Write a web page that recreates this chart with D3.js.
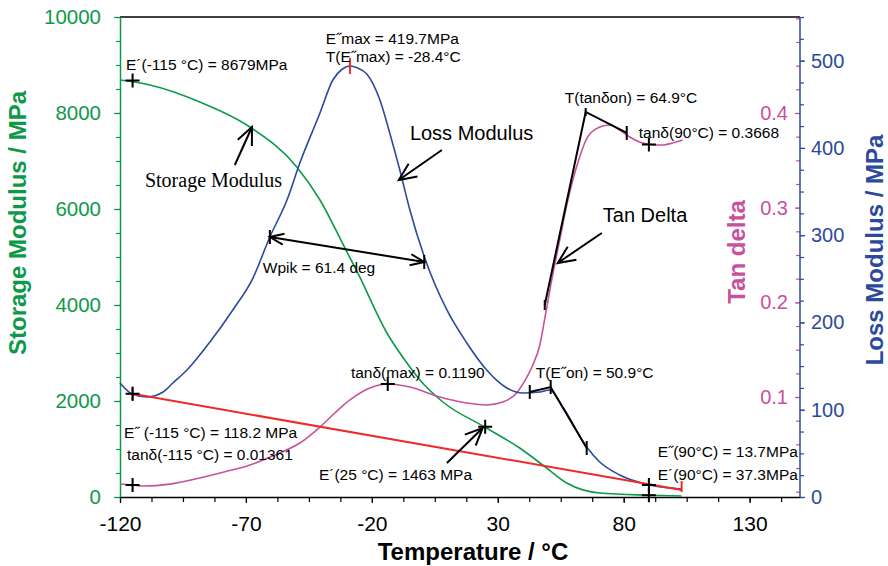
<!DOCTYPE html>
<html>
<head>
<meta charset="utf-8">
<script src="https://cdn.jsdelivr.net/npm/d3@7"></script>
<style>
  body { margin: 0; background: #fff; }
  text { font-family: "Liberation Sans", Arial, sans-serif; }
</style>
</head>
<body>
<svg id="chart" width="888" height="566"></svg>
<script>
// ---- data ----
const xTicks = [-120, -70, -20, 30, 80, 130];
const storageTicks = [0, 2000, 4000, 6000, 8000, 10000];
const lossTicks = [0, 100, 200, 300, 400, 500];
const tanTicks = [0.1, 0.2, 0.3, 0.4];

// storage modulus E' (MPa)
const storageT = [-120, -108.1, -88.3, -68.4, -49.8, -40.6, -30.7, -25.6, -14.0, -4.9, -0.9, 8.2, 24.8, 38.7, 49.4, 57.4, 70.5, 90.3, 103];
const storageE = [8688, 8583, 8229, 7708, 6875, 6188, 5188, 4667, 3417, 2708, 2438, 1979, 1458, 1021, 604, 292, 83, 37, 20];

// loss modulus E'' (MPa)
const lossT = [-120, -115.2, -109.3, -102.9, -99.0, -93.4, -84.3, -75.2, -67.2, -60.5, -53.7, -48.6, -40.6, -35.5, -31.7, -28.7, -25.6, -22.0, -16.8, -12.9, -8.9, -4.9, 1.0, 9.8, 17.7, 25.6, 33.6, 39.9, 46.7, 50.6, 55.8, 65.3, 70.5, 78.4, 90.3, 103];
const lossE = [130.6, 118, 114.6, 120.3, 130.6, 145.5, 177.6, 214.3, 250.9, 297.9, 340.3, 382.7, 440, 477.8, 490.4, 493.9, 491.6, 484.7, 454.9, 417.1, 374.7, 328.9, 273.9, 214.3, 176.5, 145.5, 124.9, 119.2, 120.3, 122.6, 103.1, 57.3, 40.1, 25.2, 13.7, 9.2];

// tan delta
const tanT = [-120, -115, -110.9, -100.2, -88.3, -78.3, -68.4, -58.5, -48.6, -40.6, -34.7, -28.7, -20.8, -13.7, -4.9, 7.0, 17.7, 25.6, 32.0, 37.5, 40.7, 43.9, 46.7, 48.7, 51.8, 54.6, 57.4, 59.8, 62.5, 65.7, 70.5, 74.4, 78.4, 82.4, 86.3, 90.3, 95.5, 99.4, 103.4];
const tanD = [0.0081, 0.0071, 0.006, 0.008, 0.0145, 0.021, 0.0282, 0.0388, 0.0514, 0.0683, 0.0831, 0.0969, 0.1095, 0.1138, 0.1106, 0.1, 0.0937, 0.0916, 0.0947, 0.1043, 0.117, 0.1338, 0.155, 0.1835, 0.229, 0.2659, 0.3028, 0.3292, 0.3535, 0.3747, 0.3852, 0.3873, 0.382, 0.3747, 0.3694, 0.3668, 0.3662, 0.3683, 0.3715];

// baseline of the loss modulus peak (red)
const baselineT = [-115, 103];
const baselineE = [118.2, 8];

// "+" markers: temperature, value, which axis
const markT = [-115, -115, -115, -13.7, 25, 90, 90, 90];
const markV = [8679, 118.2, 0.0071, 0.1138, 1463, 13.7, 37.3, 0.3668];
const markAxis = ["E1", "E2", "tan", "tan", "E1", "E2", "E1", "tan"];

// onset tangents
const eOnT = [42.7, 51.0, 65.3];
const eOnV = [120.3, 126, 56.1];
const tanOnT = [48.65, 64.9, 81.2];
const tanOnV = [0.1972, 0.4011, 0.3789];

// peak width arrow on loss modulus
const wpikT = [-60.5, 0.8];
const wpikV = [297.9, 269.3];

// label arrows (tail -> tip), given in temperature / storage-axis units
const arrowTail = [[-74.4, 6917], [7.8, 7229], [71.3, 5500], [9.8, 708]];
const arrowTip = [[-67.6, 7708], [-9.3, 6604], [53.8, 4875], [24.0, 1438]];

// annotation texts, anchored in temperature / storage-axis units
const labels = [
  { t: -117.6, v: 8896, text: "E´(-115 °C) = 8679MPa" },
  { t: -38.3, v: 9438, text: "E˝max = 419.7MPa" },
  { t: -38.3, v: 9063, text: "T(E˝max) = -28.4°C" },
  { t: 56.6, v: 8208, text: "T(tanδon) = 64.9°C" },
  { t: 86.0, v: 7479, text: "tanδ(90°C) = 0.3668" },
  { t: -63.3, v: 4667, text: "Wpik = 61.4 deg" },
  { t: -28.3, v: 2479, text: "tanδ(max) = 0.1190" },
  { t: 45.1, v: 2479, text: "T(E˝on) = 50.9°C" },
  { t: -118.4, v: 1229, text: "E˝ (-115 °C) = 118.2 MPa" },
  { t: -117.2, v: 771, text: "tanδ(-115 °C) = 0.01361" },
  { t: -41.0, v: 354, text: "E´(25 °C) = 1463 MPa" },
  { t: 93.5, v: 833, text: "E˝(90°C) = 13.7MPa" },
  { t: 93.5, v: 354, text: "E´(90°C) = 37.3MPa" }
];
const bigLabels = [
  { t: -4.9, v: 7438, text: "Loss Modulus", serif: false },
  { t: -110.1, v: 6458, text: "Storage Modulus", serif: true },
  { t: 71.7, v: 5729, text: "Tan Delta", serif: false }
];

// ---- colours ----
const GREEN = "#0d9a48";
const BLUE = "#2b4a9c";
const PINK = "#c8519c";
const RED = "#ee2a2a";
const FONT = "'Liberation Sans', Arial, sans-serif";

const svg = d3.select("#chart");

const x = d3.scaleLinear().domain([-120, 150]).range([120, 800]);
const yS = d3.scaleLinear().domain([0, 10000]).range([497, 17]);
const yL = d3.scaleLinear().domain([0, 550]).range([497, 17]);
const yT = d3.scaleLinear().domain([-0.0056, 0.5014]).range([497, 17]);
const scaleFor = { E1: yS, E2: yL, tan: yT };
const plain = (d) => String(d);

// ---- axes ----
// top frame line
svg.append("line")
  .attr("x1", 120).attr("x2", 800)
  .attr("y1", yS(10000)).attr("y2", yS(10000))
  .attr("stroke", "#000").attr("stroke-width", 1.5);

// bottom axis
const xMinor = svg.append("g").attr("transform", `translate(0,${yS(0)})`)
  .call(d3.axisBottom(x).tickValues(d3.range(-120, 151, 12.5)).tickSize(5).tickFormat(""));
xMinor.select(".domain").remove();
xMinor.selectAll("line").attr("stroke", "#000").attr("stroke-width", 1.2);

const xAxis = svg.append("g").attr("transform", `translate(0,${yS(0)})`)
  .call(d3.axisBottom(x).tickValues(xTicks).tickSize(6).tickPadding(13).tickSizeOuter(0).tickFormat(plain));
xAxis.select(".domain").attr("stroke", "#000").attr("stroke-width", 1.5);
xAxis.selectAll("line").attr("stroke", "#000").attr("stroke-width", 1.2);
xAxis.selectAll("text").attr("fill", "#000").style("font-size", "21px").style("font-family", FONT);

// left (storage) axis
const yMinor = svg.append("g").attr("transform", "translate(120,0)")
  .call(d3.axisLeft(yS).tickValues(d3.range(0, 10001, 500)).tickSize(4).tickFormat(""));
yMinor.select(".domain").remove();
yMinor.selectAll("line").attr("stroke", GREEN).attr("stroke-width", 1.2);

const yAxis = svg.append("g").attr("transform", "translate(120,0)")
  .call(d3.axisLeft(yS).tickValues(storageTicks).tickSize(6).tickPadding(13).tickSizeOuter(0).tickFormat(plain));
yAxis.select(".domain").attr("stroke", GREEN).attr("stroke-width", 1.5);
yAxis.selectAll("line").attr("stroke", GREEN).attr("stroke-width", 1.2);
yAxis.selectAll("text").attr("fill", GREEN).style("font-size", "20.5px").style("font-family", FONT);

// right axes: loss modulus (outside) and tan delta (inside)
const lMinor = svg.append("g").attr("transform", "translate(800,0)")
  .call(d3.axisRight(yL).tickValues(d3.range(0, 551, 25)).tickSize(4).tickFormat(""));
lMinor.select(".domain").remove();
lMinor.selectAll("line").attr("stroke", BLUE).attr("stroke-width", 1.2);

const tMinor = svg.append("g").attr("transform", "translate(800,0)")
  .call(d3.axisLeft(yT).tickValues(d3.range(0, 0.501, 0.025)).tickSize(4).tickFormat(""));
tMinor.select(".domain").remove();
tMinor.selectAll("line").attr("stroke", PINK).attr("stroke-width", 1.2);

const tAxis = svg.append("g").attr("transform", "translate(800,0)")
  .call(d3.axisLeft(yT).tickValues(tanTicks).tickSize(5).tickPadding(7).tickFormat(d3.format(".1f")));
tAxis.select(".domain").remove();
tAxis.selectAll("line").attr("stroke", PINK).attr("stroke-width", 1.2);
tAxis.selectAll("text").attr("fill", PINK).style("font-size", "20px").style("font-family", FONT);

const lAxis = svg.append("g").attr("transform", "translate(800,0)")
  .call(d3.axisRight(yL).tickValues(lossTicks).tickSize(5).tickPadding(6).tickSizeOuter(0).tickFormat(plain));
lAxis.select(".domain").attr("stroke", BLUE).attr("stroke-width", 1.5)
  .attr("d", `M0,${yL.range()[0]}V${yL.range()[1]}`);
lAxis.selectAll("line").attr("stroke", BLUE).attr("stroke-width", 1.2);
lAxis.selectAll("text").attr("fill", BLUE).style("font-size", "20px").style("font-family", FONT);

// axis titles
svg.append("text")
  .attr("transform", "translate(26,223) rotate(-90)")
  .attr("text-anchor", "middle").attr("fill", GREEN)
  .style("font-size", "24px").style("font-weight", "bold")
  .text("Storage Modulus / MPa");

svg.append("text")
  .attr("transform", "translate(745,252) rotate(-90)")
  .attr("text-anchor", "middle").attr("fill", PINK)
  .style("font-size", "24px").style("font-weight", "bold")
  .text("Tan delta");

svg.append("text")
  .attr("transform", "translate(883,250) rotate(-90)")
  .attr("text-anchor", "middle").attr("fill", BLUE)
  .style("font-size", "24px").style("font-weight", "bold")
  .text("Loss Modulus / MPa");

svg.append("text")
  .attr("x", 473).attr("y", 560)
  .attr("text-anchor", "middle").attr("fill", "#000")
  .style("font-size", "24px").style("font-weight", "bold")
  .text("Temperature / °C");

// ---- curves ----
function drawCurve(ts, vs, yScale, color) {
  const line = d3.line()
    .x((d) => x(d[0]))
    .y((d) => yScale(d[1]))
    .curve(d3.curveMonotoneX);
  svg.append("path")
    .datum(d3.zip(ts, vs))
    .attr("d", line)
    .attr("fill", "none")
    .attr("stroke", color)
    .attr("stroke-width", 1.6);
}

drawCurve(storageT, storageE, yS, GREEN);
drawCurve(tanT, tanD, yT, PINK);
drawCurve(lossT, lossE, yL, BLUE);

// red baseline with end ticks
svg.append("line")
  .attr("x1", x(baselineT[0])).attr("y1", yL(baselineE[0]))
  .attr("x2", x(baselineT[1])).attr("y2", yL(baselineE[1]))
  .attr("stroke", RED).attr("stroke-width", 2);
svg.append("line")
  .attr("x1", x(baselineT[1])).attr("x2", x(baselineT[1]))
  .attr("y1", yL(baselineE[1]) - 9).attr("y2", yL(baselineE[1]) + 2)
  .attr("stroke", RED).attr("stroke-width", 2);
svg.append("line")
  .attr("x1", x(baselineT[0])).attr("x2", x(baselineT[0]))
  .attr("y1", yL(baselineE[0]) - 7).attr("y2", yL(baselineE[0]) + 7)
  .attr("stroke", RED).attr("stroke-width", 2);

// red tick at loss modulus maximum
const peakIdx = d3.maxIndex(lossE);
svg.append("line")
  .attr("x1", x(lossT[peakIdx])).attr("x2", x(lossT[peakIdx]))
  .attr("y1", yL(lossE[peakIdx]) - 8).attr("y2", yL(lossE[peakIdx]) + 8)
  .attr("stroke", RED).attr("stroke-width", 2);

// ---- annotation marks ----
const black = svg.append("g").attr("stroke", "#000").attr("fill", "none").attr("stroke-width", 2);

// "+" markers
markT.forEach((t, i) => {
  const cx = x(t), cy = scaleFor[markAxis[i]](markV[i]);
  black.append("path").attr("d", `M${cx - 7},${cy}H${cx + 7}M${cx},${cy - 7}V${cy + 7}`);
});

function vTick(px, py, h) {
  black.append("path").attr("d", `M${px},${py - h}V${py + h}`);
}

function arrowHead(tip, tail, len, ang) {
  const a = Math.atan2(tail[1] - tip[1], tail[0] - tip[0]);
  const p1 = [tip[0] + len * Math.cos(a + ang), tip[1] + len * Math.sin(a + ang)];
  const p2 = [tip[0] + len * Math.cos(a - ang), tip[1] + len * Math.sin(a - ang)];
  black.append("path").attr("d", `M${p1}L${tip}L${p2}`);
}

// E'' onset tangent
const eOnPts = eOnT.map((t, i) => [x(t), yL(eOnV[i])]);
black.append("path").attr("d", d3.line()(eOnPts));
eOnPts.forEach((p) => vTick(p[0], p[1], 7));

// tan delta onset tangent
const tanOnPts = tanOnT.map((t, i) => [x(t), yT(tanOnV[i])]);
black.append("path").attr("d", d3.line()(tanOnPts));
vTick(tanOnPts[0][0], tanOnPts[0][1], 5);
vTick(tanOnPts[1][0], tanOnPts[1][1], 4);
vTick(tanOnPts[2][0], tanOnPts[2][1], 7);

// Wpik double arrow
const w0 = [x(wpikT[0]), yL(wpikV[0])];
const w1 = [x(wpikT[1]), yL(wpikV[1])];
black.append("path").attr("d", `M${w0}L${w1}`);
arrowHead(w0, w1, 15, 0.38);
arrowHead(w1, w0, 15, 0.38);
vTick(w0[0], w0[1], 7);
vTick(w1[0], w1[1], 7);

// label arrows
arrowTail.forEach((tl, i) => {
  const a = [x(tl[0]), yS(tl[1])];
  const b = [x(arrowTip[i][0]), yS(arrowTip[i][1])];
  black.append("path").attr("d", `M${a}L${b}`);
  arrowHead(b, a, 19, 0.42);
});

// ---- texts ----
svg.selectAll(".ann")
  .data(labels)
  .enter()
  .append("text")
  .attr("class", "ann")
  .attr("x", (d) => x(d.t))
  .attr("y", (d) => yS(d.v))
  .attr("fill", "#000")
  .style("font-size", "15.5px")
  .text((d) => d.text);

svg.selectAll(".big")
  .data(bigLabels)
  .enter()
  .append("text")
  .attr("class", "big")
  .attr("x", (d) => x(d.t))
  .attr("y", (d) => yS(d.v))
  .attr("fill", "#000")
  .style("font-size", "20px")
  .style("font-family", (d) => (d.serif ? "'Liberation Serif', 'Times New Roman', serif" : null))
  .text((d) => d.text);
</script>
</body>
</html>
